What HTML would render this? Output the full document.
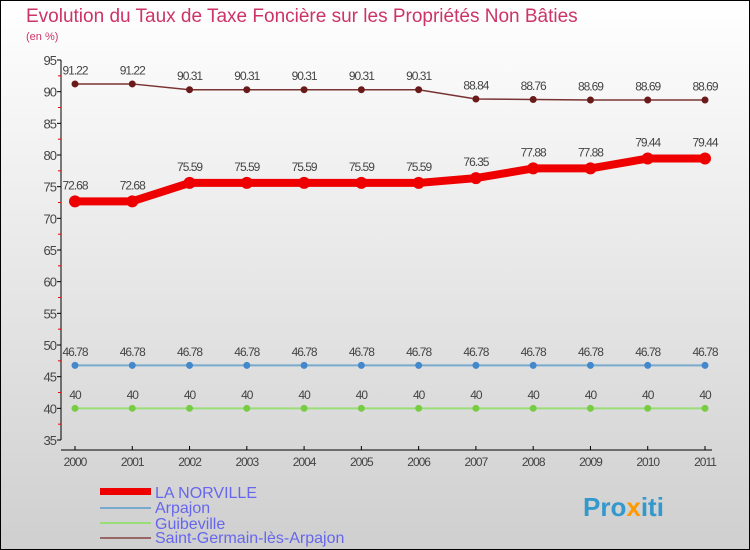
<!DOCTYPE html>
<html><head><meta charset="utf-8"><style>
body{margin:0;width:750px;height:550px;overflow:hidden}
svg{display:block;font-family:"Liberation Sans",sans-serif}
</style></head><body>
<svg id="c" width="750" height="550" xmlns="http://www.w3.org/2000/svg">
<defs><linearGradient id="bg" x1="0" y1="0" x2="0" y2="1"><stop offset="0" stop-color="#ffffff"/><stop offset="1" stop-color="#cfcfcf"/></linearGradient></defs>
<rect x="0.5" y="0.5" width="749" height="549" fill="url(#bg)" stroke="#000"/>
<text x="26" y="22" font-size="19" fill="#cc3366">Evolution du Taux de Taxe Foncière sur les Propriétés Non Bâties</text>
<text x="26" y="40" font-size="11" fill="#cc3366">(en %)</text>
<g id="axes"></g><g id="series"></g>
<g>
<rect x="100" y="488" width="51" height="7" fill="#ee0000"/>
<text x="155" y="498" font-size="16" fill="#6666ee">LA NORVILLE</text>
<rect x="100" y="507" width="51" height="2" fill="#77aacc"/>
<text x="155" y="513" font-size="16" fill="#6666ee">Arpajon</text>
<rect x="100" y="522" width="51" height="2" fill="#99dd77"/>
<text x="155" y="529" font-size="16" fill="#6666ee">Guibeville</text>
<rect x="100" y="537" width="51" height="2" fill="#996666"/>
<text x="155" y="543" font-size="16" fill="#6666ee">Saint-Germain-lès-Arpajon</text>
</g>
<text x="583" y="516" font-size="26" font-weight="bold" fill="#3399cc">Pro<tspan fill="#ff9900">x</tspan>iti</text>
</svg>
<script>
const years=["2000","2001","2002","2003","2004","2005","2006","2007","2008","2009","2010","2011"];
const yTicks=[35,40,45,50,55,60,65,70,75,80,85,90,95];
const laNorville=[72.68,72.68,75.59,75.59,75.59,75.59,75.59,76.35,77.88,77.88,79.44,79.44];
const arpajon=[46.78,46.78,46.78,46.78,46.78,46.78,46.78,46.78,46.78,46.78,46.78,46.78];
const guibeville=[40,40,40,40,40,40,40,40,40,40,40,40];
const saintGermain=[91.22,91.22,90.31,90.31,90.31,90.31,90.31,88.84,88.76,88.69,88.69,88.69];
const NS="http://www.w3.org/2000/svg";
const X=i=>75+i*(630/11);
const Y=v=>60+(95-v)*(380/60);
function mk(t,a,p){const e=document.createElementNS(NS,t);for(const k in a)e.setAttribute(k,a[k]);p.appendChild(e);return e;}
const ax=document.getElementById('axes');
let l=mk('line',{x1:61,y1:60,x2:61,y2:440,stroke:'#000'},ax);

l=mk('line',{x1:61,y1:450,x2:712,y2:450,stroke:'#000'},ax);

yTicks.forEach(v=>{const y=Y(v);
 mk('line',{x1:57,y1:y,x2:61,y2:y,stroke:'#000'},ax);
 if(v<95)mk('line',{x1:58,y1:Y(v+2.5),x2:61,y2:Y(v+2.5),stroke:'#e00'},ax);
 const t=mk('text',{x:56,y:y+5,'font-size':13,fill:'#444','text-anchor':'end','letter-spacing':'-1'},ax);t.textContent=v;
 });
years.forEach((yr,i)=>{const x=X(i);
 mk('line',{x1:x,y1:446,x2:x,y2:450,stroke:'#000'},ax);
 const t=mk('text',{x:x,y:466,'font-size':12,fill:'#444','text-anchor':'middle','letter-spacing':'-1'},ax);t.textContent=yr;
 });
const sg=document.getElementById('series');
function series(name,data,color,w,r,dot){
 const g=mk('g',{},sg);
 
 const p=mk('polyline',{points:data.map((v,i)=>X(i)+','+Y(v)).join(' '),fill:'none',stroke:color,'stroke-width':w,'stroke-linejoin':'round'},g);
 
 data.forEach((v,i)=>{const c=mk('circle',{cx:X(i),cy:Y(v),r:r,fill:dot},g);
  
  const t=mk('text',{x:X(i),y:Y(v)-r-6,'font-size':12,fill:'#444','text-anchor':'middle','letter-spacing':'-1'},g);t.textContent=v;
  });
}
series('saint-germain',saintGermain,'#7a3333',1.5,3.5,'#6b1a1a');
series('arpajon',arpajon,'#77aacc',2,3.5,'#4488cc');
series('guibeville',guibeville,'#99dd77',2,3.5,'#77cc44');
series('la-norville',laNorville,'#ee0000',8,6,'#ee0000');
</script>
</body></html>
